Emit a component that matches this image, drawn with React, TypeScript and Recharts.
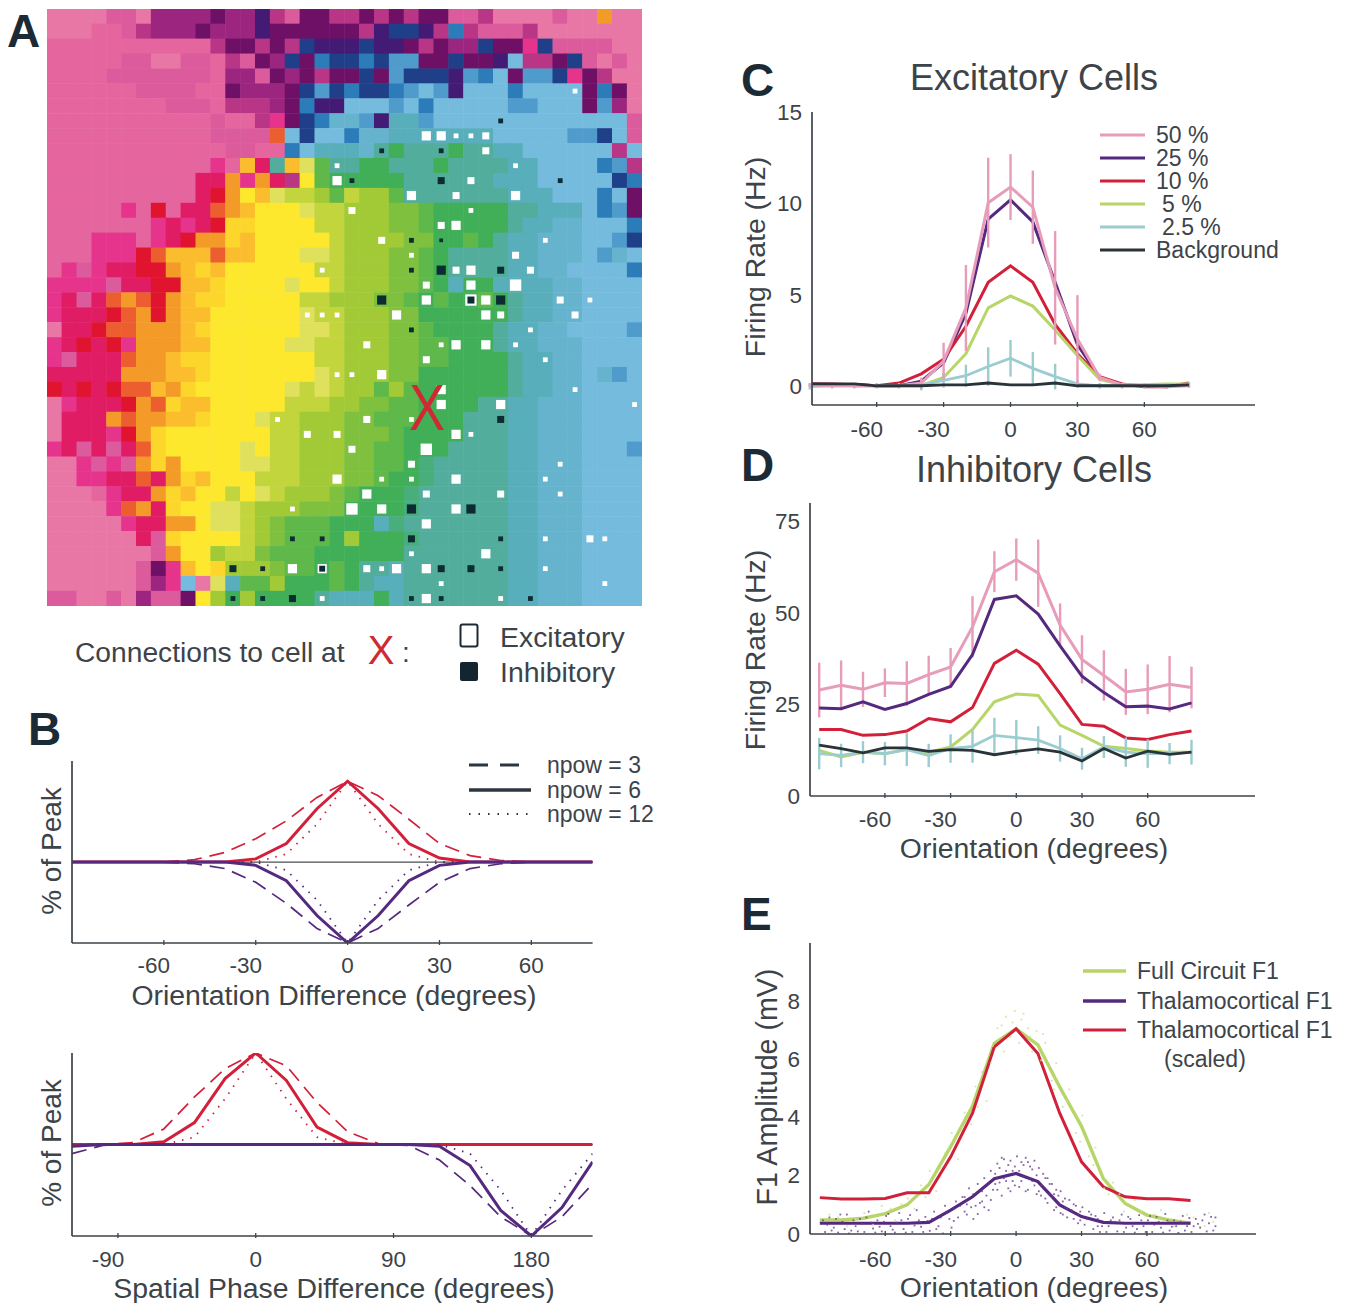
import React from 'react';
import { ComposedChart, LineChart, ScatterChart, Line, Scatter, XAxis, YAxis, ErrorBar, ReferenceLine } from 'recharts';

// ---- panel A ----
const palette: Record<string, string> = {
  P: '#e877a6', p: '#e5659e', r: '#dc5b9c', M: '#b93586', m: '#9c2580', d: '#6e1166', v: '#431b74', n: '#1f3f88',
  b: '#2b7cb8', B: '#4f9ccc', c: '#75bbdd', s: '#66b3cd', t: '#58aebb', T: '#52ad9c', u: '#47ae7c', g: '#40af58', G: '#5fb84a',
  h: '#7fc03e', l: '#a2ca36', L: '#c2d53c', K: '#dfe15c', y: '#fde82e', Y: '#fdd62b', o: '#fbbd2d', a: '#f49a28', e: '#ec5d30',
  f: '#e0142f', i: '#e01c64', j: '#e6348c',
};

const mapRows = [
  'PPPPrrPmmmmdmmvMrddMMdMdMddrrMPPPPrPPaPP',
  'PPPpprMmmmdmmmvddddddMvnnvMbMrrrMPPPPPPP',
  'pppppppppppMddMdMnvvvnvvdMdmmnddjnrrrrPP',
  'ppppprrPPrrpMrdmndbnnbnBBddnddvcMMdnrPrP',
  'pppprrrrrrrpmmrdmdMddndBnnnvBbcdBBnjdMPP',
  'pppppprrrrppdmmmdnBnbnnbBcBvcccbccccdbdP',
  'pppppppprrrpMMMmdbvvcccBcbcccccBBcccdBmP',
  'ppppppppppprppMjdnbssBvttBcccccccccccccr',
  'ppppppppppprrrrecnccbsstttttttcccccBBncr',
  'pppppppppppprrppbctttsTgTTTgTTttccccccMc',
  'pppppppppppjpoiToKGTTggTTTgTTTTttccccbBM',
  'ppppppppppiiajaiMyGgggggTTTTTTtttcccccnb',
  'ppppppppppifayoKLLlGLllGTTTTTTTtttcccbcd',
  'pppppjpfpiieaoyyyKLLlllhhGgggggTTtttcbBd',
  'pppppppjijifYYyyyyLLlllhhGgggggTttsscccb',
  'pppjjjpjifaaYoyyyyyLllllhhggGgTttsssccBn',
  'pppjjjfeoooeooyyyKKLlllhhGgTTTTttssscBsc',
  'pjrjiiffaoYoyyyyyyLLlllhhGgTTTTttssccccb',
  'jjjjriiffooYyyyyKyyLlllhhGgtggttttsscccc',
  'jirieaefaoYYyyyyyLLlllhhGgGggGgTttsscccc',
  'jiiifeafaooyyyyyyKLLlllhhggggggTttsscccc',
  'PiifeeaaaoYyyyyyyKKLlllhhGggggTttssccccB',
  'jififjaaaooyyyyyKKLLlllhhGGgggTttssscccc',
  'jriiieaaoYYyyyyyyyLLlllhhGGggggTttsscccc',
  'iiiiiaaaooYyyyyyyyKLlllhhggggggTttsscsBc',
  'fififeeoaYyyyyyyKLKLllGlGggggggTttsscccc',
  'PjiiifaeYooyyyyyLLLllhhGGggggTTttssscccc',
  'PiiiaeaaooYyyyKLLlllhhGGGgggTTTttssscccc',
  'PiiijfaYyyyyyyyLLlllhhhGggggTTTttssscccc',
  'jiririeYyyyyyKyLLlllhhGGgggTTTTttssscccB',
  'PPjrjraYayyyyKKLLlllhhGGguTTTTTttssscccc',
  'PPjjiieiaYoyyyLLLlllhhGgguTTTTTttssscccc',
  'PPPpjiiaYoyyLyKLlllhGggguTTTTTTttssscccc',
  'PPPPjeaiYyyKKLlllhhhgggguTTTTTTttssscccc',
  'PPPPPjiiaayKKLlhGGGgggtuTTTTTTTttssscccc',
  'PPPPPPirYyyyyLlhGGGglggguTTTTTTttssscccc',
  'PPPPPPPrayylLLhGGGggggggTTTTTTTttssscccc',
  'PPPPPPrdjoyYlllhGGgGgTTtTTTTTTTttssscccc',
  'PPPPPPrmjcPKtGGlgggGgTttTTTTTTTttssscccc',
  'rrPPrPmrrdylglggggTtttgtTTTTTTTttssscccc',
];

// [column, row, connection weight]
const excitatory = [
  [35,5,1],[25,8,3],[26,8,3],[27,8,1],[28,8,1],[29,8,2],[29,9,2],[19,10,1],[31,10,1],[19,11,3],[28,11,2],
  [24,12,3],[27,12,2],[31,12,3],[20,13,2],[28,13,1],[26,14,2],[27,14,3],[22,15,2],[33,15,1],[24,16,1],[31,16,2],
  [18,17,1],[27,17,2],[28,17,3],[32,17,2],[25,18,2],[28,18,3],[31,18,4],[25,19,3],[28,19,4],[29,19,3],[34,19,2],[36,19,1],
  [17,20,1],[18,20,1],[19,20,1],[23,20,3],[29,20,3],[30,20,2],[35,20,2],[32,21,1],[21,22,2],[26,22,1],[27,22,3],[29,22,3],[31,22,1],
  [33,23,1],[25,23,2],[19,24,1],[20,24,1],[22,24,3],[26,25,3],[35,25,1],[26,26,3],[30,26,3],[39,26,1],[15,27,1],[21,27,2],[24,27,1],
  [17,28,2],[19,28,2],[27,28,3],[28,28,1],[20,29,2],[25,29,4],[24,30,2],[34,30,1],[19,31,3],[22,31,1],[24,31,1],[27,31,3],[33,31,1],
  [21,32,3],[25,32,2],[30,32,2],[34,32,1],[16,33,1],[20,33,4],[22,33,3],[27,33,3],[25,34,3],[33,35,1],[36,35,2],[37,35,1],[24,36,1],[29,36,3],
  [16,37,3],[18,37,3],[21,37,2],[22,37,1],[23,37,3],[25,37,3],[33,37,1],[26,38,1],[37,38,1],[18,39,1],[25,39,3],[30,39,1],
];
const inhibitory = [
  [30,7,1],[22,9,1],[26,9,1],[20,11,1],[26,11,2],[34,11,1],[24,15,1],[26,15,0.5],[24,17,1],[26,17,3],[30,17,2],[22,19,3],[28,19,2],[30,19,3],
  [24,21,1],[30,27,2],[24,33,3],[28,33,3],[16,35,1],[18,35,1],[24,35,2],[30,35,1],[12,37,2],[14,37,1],[18,37,1.5],[26,37,2],[28,37,2],[30,37,1],
  [12,39,1],[14,39,1],[16,39,2],[24,39,1],[26,39,1],[32,39,1],
];
const mapCells = mapRows.flatMap((row, r) => row.split('').map((k, c) => ({ x: c + 0.5, y: r + 0.5, z: palette[k] })));
const toDot = (tone: string) => (d: number[]) => ({ x: d[0] + 0.5, y: d[1] + 0.5, w: d[2], z: tone });

// ---- panel B ----
const phiOri = [-90,-80,-70,-60,-50,-40,-30,-20,-10,0,10,20,30,40,50,60,70,80];
const oriExcSolid = [0,0,0,0,0,0,4,23,66,100,66,23,5,0,0,0,0,0];
const oriExcDash = [0,0,0,0,3,12,29,51,80,100,82,53,23,8,2,0,0,0];
const oriExcDot = [0,0,0,0,0,0,0,10,47,100,47,10,0,0,0,0,0,0];
const oriInhSolid = [0,0,0,0,0,0,-4,-23,-66,-100,-66,-23,-4,0,0,0,0,0];
const oriInhDash = [0,0,0,0,-2,-8,-25,-51,-82,-100,-82,-53,-25,-8,-2,0,0,0];
const oriInhDot = [0,0,0,0,0,0,0,-10,-47,-100,-47,-10,0,0,0,0,0,0];

const phiPhase = [-120,-100,-80,-60,-40,-20,0,20,40,60,80,100,120,140,160,180,200,220];
const phaseExcSolid = [0,0,0,3,24,72,100,70,19,2,0,0,0,0,0,0,0,0];
const phaseExcDash = [0,0,2,17,52,83,100,86,46,14,1,0,0,0,0,0,0,0];
const phaseExcDot = [0,0,0,0,8,50,100,50,8,0,0,0,0,0,0,0,0,0];
const phaseInhSolid = [-2,0,0,0,0,0,0,0,0,0,0,0,-2,-23,-72,-100,-69,-19];
const phaseInhDash = [-10,-1,0,0,0,0,0,0,0,0,0,-1,-17,-45,-79,-100,-79,-43];
const phaseInhDot = [0,0,0,0,0,0,0,0,0,0,0,0,0,-10,-50,-100,-50,-10];

// ---- panel C ----
const orient = [-90,-80,-70,-60,-50,-40,-30,-20,-10,0,10,20,30,40,50,60,70,80];
const exc50 = [0.1,0.05,0.05,0.05,0.05,0.2,1.4,4.3,10.05,10.9,9.8,5.4,2.6,0.5,0.1,0.05,0,0.05];
const exc25 = [0.15,0.12,0.12,0.05,0.05,0.3,1.3,4,9.15,10.2,9,5.7,2.3,0.5,0.1,0.05,0.05,0.1];
const exc10 = [0.15,0.15,0.1,0.05,0.2,0.7,1.5,3.3,5.7,6.6,5.7,3.4,1.8,0.55,0.15,0,0,0.2];
const exc5 = [0.1,0.1,0.05,0.05,0.05,0.05,0.5,1.8,4.3,4.95,4.4,3.1,1.7,0.4,0.1,0.1,0.15,0.15];
const exc2 = [0,0.05,0.05,0.05,0.05,0.1,0.35,0.6,1.1,1.55,1,0.55,0.15,0.05,0.05,0.05,0.05,0.1];
const excBg = [0.15,0.15,0.15,0.05,0.05,0.05,0.1,0.1,0.2,0.1,0.1,0.2,0.05,0.05,0.05,0.05,0.05,0.1];
const excErr50 = [0.1,0.1,0.1,0.1,0.1,0.3,1,2.35,2.45,1.8,2,3.1,2.4,0.2,0.1,0.1,0.1,0.1];
const excErr2 = [0.15,0.15,0.15,0.15,0.15,0.3,0.4,0.6,1.05,1,0.9,0.7,0.2,0.15,0.15,0.15,0.15,0.15];

// ---- panel D ----
const inh50 = [29,30.3,29.2,31,30.8,33.2,35.3,46.3,61.4,64.7,61,46.8,37.4,33,28.5,29.2,30.6,29.7];
const inh25 = [24.1,23.9,25.8,23.7,25.3,27.8,30,38.7,53.8,54.8,49.8,41.1,32.8,28.3,24.4,24.6,23.8,25.5];
const inh10 = [18.2,18.2,16.6,16.8,17.8,21.2,20.3,24.2,36.3,39.9,36.1,28,19.6,19.1,15.9,15.5,16.8,17.8];
const inh5 = [12.5,10.7,12,11.6,12.8,12,13.4,18.2,25.8,27.9,27.5,19.4,16.6,13.6,13,12.3,12,12];
const inh2 = [11.6,11.1,12,11.6,12.7,11.1,13,13.6,16.6,16,15.3,13,10.2,13.4,12,11.6,11.6,12];
const inhBg = [13.9,13,11.8,13.2,13.2,12.2,12.7,12.5,11.3,12.2,12.9,12,9.6,13,10.4,12.3,11.4,12];
const inhErr50 = [7.5,6.8,4.8,3.9,6.1,5.2,5.2,8.4,5.6,5.8,9.2,5.9,6.6,6.9,6.3,6.8,7.7,5.7];
const inhErr2 = [4.3,3.2,3,3.2,4.5,3.2,3.9,4.5,4.8,4.8,3.8,3.6,3,3,4,3.9,2.9,3.4];

// ---- panel E ----
const f1Full = [0.48,0.48,0.54,0.7,1,1.7,3,4.4,6.55,7.05,6.5,5.05,3.7,1.9,1.05,0.65,0.48,0.37];
const f1Thal = [0.37,0.37,0.37,0.37,0.37,0.4,0.82,1.28,1.9,2.08,1.8,1,0.6,0.4,0.37,0.37,0.37,0.37];
const f1Scaled = [1.25,1.2,1.2,1.22,1.42,1.42,2.65,4.15,6.43,7.05,6.2,4.15,2.48,1.62,1.28,1.21,1.21,1.15];
const thalDots = [
  [-88,0.1],[-86,0.6],[-84,0.25],[-82,0.08],[-80,0.45],[-78,0.7],[-76,0.15],[-74,0.3],[-72,0.55],[-70,0.1],[-68,0.8],[-66,0.22],[-64,0.5],[-62,0.12],[-60,0.65],
  [-58,0.3],[-56,0.08],[-54,0.75],[-52,0.2],[-50,0.55],[-48,0.1],[-46,0.85],[-44,0.28],[-42,0.62],[-40,0.14],[-38,0.8],[-36,0.3],[-34,0.05],[-33,1],[-31,0.55],
  [-30,0.25],[-28,1.15],[-27,0.6],[-25,1.3],[-24,0.8],[-22,1.6],[-21,0.95],[-20,0.55],[-18,1.75],[-17,1.1],[-15,1.95],[-14,1.35],[-13,0.85],[-12,2.2],[-11,1.55],
  [-9,2.45],[-8,1.8],[-7,1.35],[-6,2.6],[-5,2.2],[-4,1.6],[-3,2.55],[-2,1.85],[-1,2.35],[0,2.7],[1,1.65],[2,2.5],[3,2],[4,2.65],[5,1.55],[6,2.35],[7,1.85],[8,2.55],
  [9,1.4],[10,2.3],[11,1.7],[12,2.1],[13,1.25],[14,1.95],[15,1.4],[16,1.75],[17,0.85],[18,1.55],[19,1.05],[20,1.5],[21,0.7],[22,1.25],[23,0.9],[24,1.2],[26,0.55],
  [27,1],[28,0.7],[30,0.95],[31,0.35],[33,0.8],[35,0.2],[36,0.65],[38,0.1],[40,0.75],[42,0.3],[44,0.6],[46,0.12],[48,0.7],[50,0.25],[52,0.55],[54,0.08],[56,0.68],
  [58,0.3],[60,0.5],[62,0.1],[64,0.62],[66,0.25],[68,0.72],[70,0.15],[72,0.5],[74,0.07],[76,0.65],[78,0.3],[80,0.1],[82,0.55],[84,0.25],[86,0.7],[88,0.4],[90,0.15],[91,0.6],
  [-87,0.35],[-83,0.55],[-77,0.05],[-71,0.38],[-63,0.28],[-55,0.42],[-47,0.32],[-41,0.48],[-35,0.6],[-29,0.9],[-23,1.05],[-16,1.5],[-10,1.75],[-6,1.95],[6,1.95],[10,1.5],[16,1.3],[22,0.95],[29,0.5],[37,0.3],[45,0.45],[53,0.3],[63,0.35],[73,0.3],[83,0.38],
  [-89,0.5],[-85,0.15],[-81,0.7],[-79,0.2],[-75,0.5],[-73,0.12],[-69,0.6],[-67,0.42],[-65,0.08],[-61,0.45],[-59,0.72],[-57,0.18],[-53,0.5],[-51,0.08],[-49,0.68],[-45,0.5],[-43,0.1],[-39,0.55],[-37,0.2],
  [-32,0.75],[-29,0.48],[-26,1],[-24,1.3],[-23,0.7],[-20,1.4],[-19,1],[-18,0.72],[-16,1.15],[-15,0.95],[-13,1.75],[-12,1.2],[-10,2.1],[-9,1.55],[-8,2.3],[-7,2.65],[-5,1.85],[-4,2.4],[-3,1.5],[-2,2.2],[-1,1.7],
  [1,2.2],[2,1.85],[3,2.4],[4,1.5],[5,2.5],[7,2.25],[8,1.7],[9,2.05],[11,1.35],[12,1.6],[13,1.95],[14,1.1],[15,1.75],[17,1.4],[18,0.95],[19,1.35],[20,0.75],[21,1.15],[23,0.6],[25,0.85],[26,1.05],[28,0.4],
  [29,0.8],[32,0.55],[34,0.7],[37,0.55],[39,0.3],[41,0.1],[43,0.5],[47,0.5],[49,0.1],[51,0.62],[55,0.2],[57,0.5],[59,0.1],[61,0.65],[65,0.45],[67,0.08],[69,0.5],[71,0.28],[75,0.45],[77,0.15],[79,0.58],[81,0.3],[85,0.5],[87,0.12],[89,0.62],[91,0.3],
];
const fullDots = [
  [-86,0.7],[-78,0.3],[-70,0.75],[-62,1],[-56,0.5],[-50,1.25],[-44,1.7],[-40,2.2],[-37,1.5],[-33,2.8],[-30,3.5],[-27,2.6],[-24,4.2],[-21,3.8],[-19,5.1],[-16,5.6],[-14,4.6],[-11,6.5],
  [-9,7.1],[-6,6.3],[-5,7.5],[-3,6.8],[-1,7.7],[1,6.6],[3,7.6],[5,7.1],[7,6.3],[9,7],[11,6],[13,6.6],[16,5.3],[18,5.9],[21,4.4],[24,5],[27,3.5],[30,4.1],[33,2.7],[36,3],[40,1.6],
  [44,1.8],[49,0.8],[54,1.2],[60,0.5],[66,0.85],[72,0.3],[78,0.7],[84,0.25],[88,0.75],[90,0.45],
  [-82,0.6],[-74,0.55],[-66,0.35],[-58,0.9],[-53,1.05],[-47,0.9],[-42,1.3],[-35,2.3],[-31,2.9],[-25,3.7],[-18,4.4],[-12,5.9],[-7,7.2],[-2,7.3],[2,7.4],[6,6.8],[12,6.9],[17,5],[23,4.6],[29,3.2],[35,2.4],[42,1.4],[47,1.4],[57,0.8],[63,0.7],[69,0.55],[75,0.5],[81,0.6],[86,0.3],
];

const toRows = (xs: number[], cols: Record<string, number[]>) =>
  xs.map((x, i) => {
    const row: Record<string, number> = { x };
    Object.keys(cols).forEach((k) => { row[k] = cols[k][i]; });
    return row;
  });

const oriRows = toRows(phiOri, { a: oriExcSolid, b: oriExcDash, c: oriExcDot, d: oriInhSolid, e: oriInhDash, f: oriInhDot });
const phaseRows = toRows(phiPhase, { a: phaseExcSolid, b: phaseExcDash, c: phaseExcDot, d: phaseInhSolid, e: phaseInhDash, f: phaseInhDot });
const excRows = toRows(orient, { s50: exc50, s25: exc25, s10: exc10, s5: exc5, s2: exc2, bg: excBg, e50: excErr50, e2: excErr2 });
const inhRows = toRows(orient, { s50: inh50, s25: inh25, s10: inh10, s5: inh5, s2: inh2, bg: inhBg, e50: inhErr50, e2: inhErr2 });
const f1Rows = toRows(orient, { full: f1Full, thal: f1Thal, scaled: f1Scaled });

const PINK = '#e79cba';
const PURPLE = '#54297f';
const RED = '#d2203a';
const LIME = '#b7d568';
const AQUA = '#9accd0';
const DARK = '#2a3338';
const INK = '#3c4349';
const FONT = '"Liberation Sans", Arial, sans-serif';

const XTick = ({ x, y, payload, dy }: any) => (
  <g>
    <line x1={x} x2={x} y1={y} y2={y - 5} stroke={INK} strokeWidth={1.3} />
    <text x={x - (payload.value < 0 ? 10 : 0)} y={y + dy} textAnchor="middle" dominantBaseline="central" fontSize={22.5} fontFamily={FONT} fill={INK}>
      {payload.value}
    </text>
  </g>
);
const YTick = ({ x, y, payload }: any) => (
  <text x={x - 8} y={y} textAnchor="end" dominantBaseline="central" fontSize={22.5} fontFamily={FONT} fill={INK}>
    {payload.value}
  </text>
);

const axisLine = { stroke: INK, strokeWidth: 1.7 };
const frame = (left: number, top: number, w: number, h: number) => ({
  width: w + 40,
  height: h + 54,
  margin: { top: 14, right: 0, left: 0, bottom: 0 },
  style: { position: 'absolute' as const, left: left - 40, top: top - 14 },
});

const xAxisFor = (domain: number[], ticks: number[], dy: number) => (
  <XAxis dataKey="x" type="number" domain={domain} ticks={ticks} interval={0} height={40} tickSize={0} tickLine={false}
    axisLine={axisLine} allowDataOverflow tick={(p: any) => <XTick {...p} dy={dy} />} />
);
const yAxisFor = (domain: number[], ticks?: number[]) => (
  <YAxis type="number" domain={domain} ticks={ticks} interval={0} width={40} tickSize={0} tickLine={false}
    axisLine={axisLine} allowDataOverflow tick={ticks ? YTick : false} />
);

const seg = (key: string, stroke: string, width: number, dash?: string) => (
  <Line key={key} dataKey={key} stroke={stroke} strokeWidth={width} strokeDasharray={dash} dot={false} isAnimationActive={false} />
);

const tuningLines = () => [
  seg('c', RED, 1.8, '1.5 7'),
  seg('b', RED, 1.7, '15 8'),
  seg('a', RED, 3),
  seg('f', PURPLE, 1.8, '1.5 7'),
  seg('e', PURPLE, 1.7, '15 8'),
  seg('d', PURPLE, 3),
];

const PercentPanel = ({ rows, top, h, domain, ticks, dy, xDomain }: any) => (
  <LineChart data={rows} {...frame(72, top, 520.6, h)}>
    {xAxisFor(xDomain, ticks, dy)}
    {yAxisFor(domain)}
    <ReferenceLine y={0} stroke="#4a4f52" strokeWidth={1.2} />
    {tuningLines()}
  </LineChart>
);

const pinkLine = (
  <Line key="pink" dataKey="s50" stroke={PINK} strokeWidth={3} dot={false} isAnimationActive={false}>
    <ErrorBar dataKey="e50" width={0} stroke={PINK} strokeWidth={2.4} isAnimationActive={false} />
  </Line>
);

const RatePanel = ({ rows, left, top, w, h, xDomain, yDomain, yTicks, dy, pinkOnTop }: any) => (
  <LineChart data={rows} {...frame(left, top, w, h)}>
    {xAxisFor(xDomain, [-60, -30, 0, 30, 60], dy)}
    {yAxisFor(yDomain, yTicks)}
    {pinkOnTop ? null : pinkLine}
    {seg('s25', PURPLE, 3)}
    {seg('s10', RED, 3)}
    {seg('s5', LIME, 3)}
    <Line dataKey="s2" stroke={AQUA} strokeWidth={2.8} dot={false} isAnimationActive={false}>
      <ErrorBar dataKey="e2" width={0} stroke={AQUA} strokeWidth={2.4} isAnimationActive={false} />
    </Line>
    {pinkOnTop ? pinkLine : null}
    {seg('bg', DARK, 2.8)}
  </LineChart>
);

const tinyDot = (tone: string) => (p: any) => <rect x={p.cx} y={p.cy} width={1.8} height={1.8} fill={tone} fillOpacity={0.8} />;
const F1Panel = () => (
  <ComposedChart {...frame(810, 943, 446, 291)}>
    {xAxisFor([-94.5, 110], [-60, -30, 0, 30, 60], 23)}
    {yAxisFor([0, 10], [0, 2, 4, 6, 8])}
    <Scatter data={fullDots.map((d) => ({ x: d[0], y: d[1] }))} dataKey="y" shape={tinyDot('#c9e08f')} isAnimationActive={false} />
    <Scatter data={thalDots.map((d) => ({ x: d[0], y: d[1] }))} dataKey="y" shape={tinyDot('#6a3a90')} isAnimationActive={false} />
    <Line data={f1Rows} dataKey="full" stroke={LIME} strokeWidth={3.4} dot={false} isAnimationActive={false} />
    <Line data={f1Rows} dataKey="thal" stroke={PURPLE} strokeWidth={3.2} dot={false} isAnimationActive={false} />
    <Line data={f1Rows} dataKey="scaled" stroke={RED} strokeWidth={3} dot={false} isAnimationActive={false} />
  </ComposedChart>
);

const MapPanel = () => {
  const square = (p: any) => {
    const s = 15.4;
    return <rect x={p.cx - s / 2} y={p.cy - s / 2} width={s} height={s} fill={p.payload.z} />;
  };
  const marker = (p: any) => {
    const s = 2.6 + p.payload.w * 2.2;
    return <rect x={p.cx - s / 2} y={p.cy - s / 2} width={s} height={s} fill={p.payload.z} />;
  };
  return (
    <ScatterChart width={595} height={597} margin={{ top: 0, right: 0, left: 0, bottom: 0 }}
      style={{ position: 'absolute', left: 47, top: 9, filter: 'blur(0.7px)' }}>
      <XAxis dataKey="x" type="number" domain={[0, 40]} hide />
      <YAxis dataKey="y" type="number" domain={[0, 40]} reversed hide />
      <Scatter data={mapCells} shape={square} isAnimationActive={false} />
      <Scatter data={excitatory.map(toDot('#ffffff'))} shape={marker} isAnimationActive={false} />
      <Scatter data={inhibitory.map(toDot('#0d2b33'))} shape={marker} isAnimationActive={false} />
    </ScatterChart>
  );
};

const T = ({ x, y, size = 23, anchor = 'start', rotate, weight, fill = INK, fit, children }: any) => (
  <text x={x} y={y} fontSize={size} fontFamily={FONT} fontWeight={weight} fill={fill} textAnchor={anchor} dominantBaseline="central"
    textLength={fit} lengthAdjust={fit ? 'spacingAndGlyphs' : undefined}
    transform={rotate ? `rotate(${rotate} ${x} ${y})` : undefined}>
    {children}
  </text>
);
const Key = ({ x1, x2, y, stroke, width = 3, dash }: any) => (
  <line x1={x1} x2={x2} y1={y} y2={y} stroke={stroke} strokeWidth={width} strokeDasharray={dash} />
);

const excKeys = [
  ['50 %', PINK, 1156], ['25 %', PURPLE, 1156], ['10 %', RED, 1156], ['5 %', LIME, 1162], ['2.5 %', AQUA, 1162], ['Background', DARK, 1156],
];
const Overlay = () => (
  <svg width={1346} height={1303} style={{ position: 'absolute', left: 0, top: 0, pointerEvents: 'none' }}>
    <T x={7} y={31} size={46} weight="bold" fill="#1c2a36">A</T>
    <T x={28} y={729} size={46} weight="bold" fill="#1c2a36">B</T>
    <T x={741} y={80} size={46} weight="bold" fill="#1c2a36">C</T>
    <T x={741} y={465} size={46} weight="bold" fill="#1c2a36">D</T>
    <T x={741} y={914} size={46} weight="bold" fill="#1c2a36">E</T>

    <T x={427} y={407} size={65} anchor="middle" fill="#cf2a33" fit={36}>X</T>
    <T x={75} y={652} size={28.2}>Connections to cell at</T>
    <T x={381} y={650} size={40} anchor="middle" fill="#cf2a33">X</T>
    <T x={402} y={652} size={28}>:</T>
    <rect x={460.5} y={624.5} width={17} height={22} fill="#fff" stroke="#1c2a36" strokeWidth={2} rx={2} />
    <rect x={460} y={662} width={18} height={19} fill="#13252f" rx={2} />
    <T x={500} y={637} size={28.4}>Excitatory</T>
    <T x={500} y={672} size={28.4}>Inhibitory</T>

    <T x={51} y={851} size={28} anchor="middle" rotate={-90}>% of Peak</T>
    <T x={51} y={1143} size={28} anchor="middle" rotate={-90}>% of Peak</T>
    <T x={334} y={995} size={28.4} anchor="middle">Orientation Difference (degrees)</T>
    <T x={334} y={1288} size={28.4} anchor="middle">Spatial Phase Difference (degrees)</T>
    <Key x1={469} x2={531} y={765} stroke="#2c3640" dash="19 12" />
    <Key x1={469} x2={531} y={790} stroke="#2c3640" width={3.4} />
    <Key x1={469} x2={531} y={814} stroke="#2c3640" width={1.8} dash="1.5 8" />
    <T x={547} y={765}>npow = 3</T>
    <T x={547} y={790}>npow = 6</T>
    <T x={547} y={814}>npow = 12</T>

    <T x={1034} y={77} size={36} anchor="middle">Excitatory Cells</T>
    <T x={1034} y={469} size={36} anchor="middle">Inhibitory Cells</T>
    <T x={755} y={257} size={28.4} anchor="middle" rotate={-90}>Firing Rate (Hz)</T>
    <T x={755} y={650} size={28.4} anchor="middle" rotate={-90}>Firing Rate (Hz)</T>
    <T x={767} y={1087} size={28.6} anchor="middle" rotate={-90}>F1 Amplitude (mV)</T>
    <T x={1034} y={848} size={28.4} anchor="middle">Orientation (degrees)</T>
    <T x={1034} y={1287} size={28.4} anchor="middle">Orientation (degrees)</T>

    {excKeys.map((k, i) => (
      <g key={String(k[0])}>
        <Key x1={1100} x2={1145} y={135 + i * 23} stroke={k[1]} />
        <T x={k[2]} y={135 + i * 23}>{k[0]}</T>
      </g>
    ))}

    <Key x1={1083} x2={1126} y={971} stroke={LIME} width={3.4} />
    <Key x1={1083} x2={1126} y={1001} stroke={PURPLE} width={3.4} />
    <Key x1={1083} x2={1126} y={1030} stroke={RED} />
    <T x={1137} y={971}>Full Circuit F1</T>
    <T x={1137} y={1001}>Thalamocortical F1</T>
    <T x={1137} y={1030}>Thalamocortical F1</T>
    <T x={1164} y={1059}>(scaled)</T>
  </svg>
);

export default function App() {
  return (
    <div style={{ position: 'absolute', left: 0, top: 0, width: 1346, height: 1303, background: '#fff', overflow: 'hidden' }}>
      <MapPanel />
      <PercentPanel rows={oriRows} top={761} h={182} domain={[-100, 125]} ticks={[-60, -30, 0, 30, 60]} dy={21} xDomain={[-90, 80]} />
      <PercentPanel rows={phaseRows} top={1053} h={183} domain={[-100, 100]} ticks={[-90, 0, 90, 180]} dy={22} xDomain={[-120, 220]} />
      <RatePanel rows={excRows} left={812} top={112} w={443} h={293} xDomain={[-89, 109.6]} yDomain={[-1, 15]} yTicks={[0, 5, 10, 15]} dy={22} pinkOnTop />
      <RatePanel rows={inhRows} left={810} top={503} w={445} h={293} xDomain={[-94.2, 109]} yDomain={[0, 80.2]} yTicks={[0, 25, 50, 75]} dy={21} />
      <F1Panel />
      <Overlay />
    </div>
  );
}
